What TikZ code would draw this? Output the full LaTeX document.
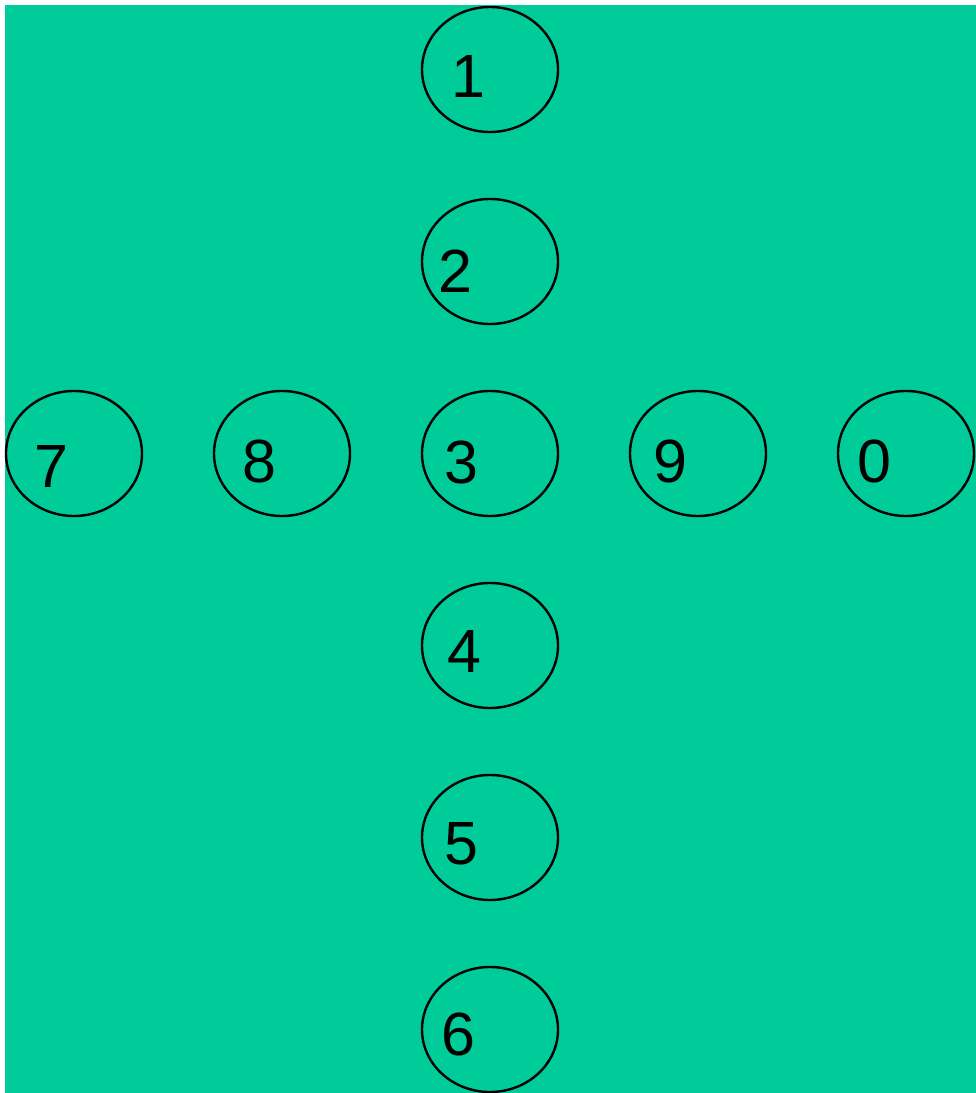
\documentclass[tikz,border=0pt]{standalone}
\usepackage{fontspec}
\setmainfont{Liberation Sans}
\usetikzlibrary{shapes.geometric}
\definecolor{bggreen}{HTML}{00CC99}
\begin{document}
\begin{tikzpicture}[x=1pt,y=-1pt,
  ring/.style={draw=black, line width=2.4pt, ellipse, minimum width=136pt, minimum height=125pt, inner sep=0pt},
  digit/.style={anchor=base, inner sep=0pt, font=\fontsize{61}{61}\selectfont}]
\useasboundingbox (0,0) rectangle (976,1093);
\fill[bggreen] (5,5) rectangle (976,1093);
\node[ring] (e1) at (490,69.5) {};
\node[ring] (e2) at (490,261.5) {};
\node[ring] (e3) at (490,453.5) {};
\node[ring] (e4) at (490,645.5) {};
\node[ring] (e5) at (490,837.5) {};
\node[ring] (e6) at (490,1029.5) {};
\node[ring] (e7) at (74,453.5) {};
\node[ring] (e8) at (282,453.5) {};
\node[ring] (e9) at (698,453.5) {};
\node[ring] (e0) at (906,453.5) {};
\node[digit] (t1) at (468,97) {1};
\node[digit] (t2) at (455.5,292) {2};
\node[digit] (t3) at (461.5,483) {3};
\node[digit] (t4) at (464,672) {4};
\node[digit] (t5) at (461,864) {5};
\node[digit] (t6) at (458,1055) {6};
\node[digit] (t7) at (51,487) {7};
\node[digit] (t8) at (259,482) {8};
\node[digit] (t9) at (670,482) {9};
\node[digit] (t0) at (874.5,482) {0};
\end{tikzpicture}
\end{document}
